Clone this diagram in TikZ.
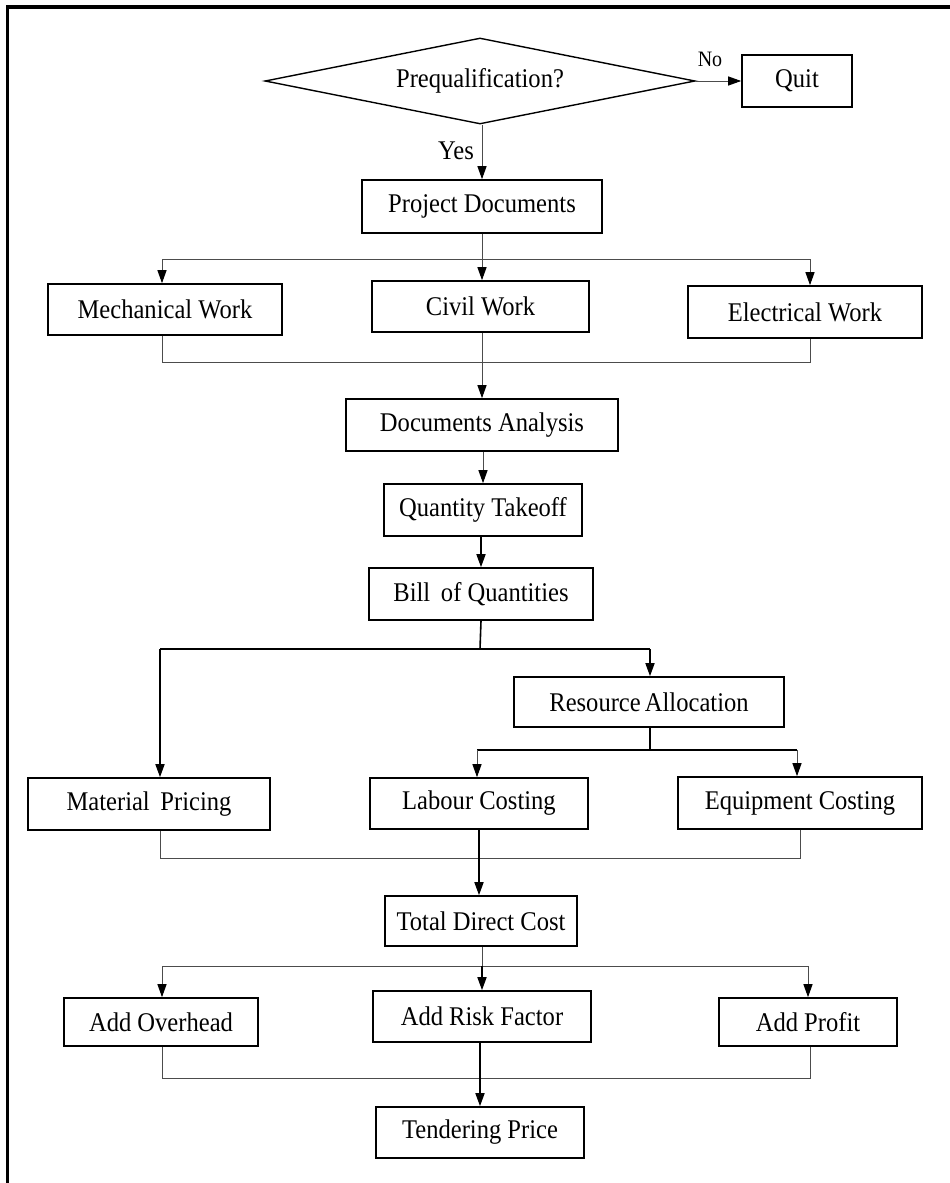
\documentclass[tikz,border=0pt]{standalone}
\usepackage{fontspec}
\setmainfont{Liberation Serif}[FakeStretch=0.91]
\usetikzlibrary{shapes.geometric,arrows.meta}
\begin{document}
\begin{tikzpicture}[x=1pt,y=-1pt,
  txt/.style={font=\fontsize{27}{30}\selectfont},
  box/.style={draw,line width=1.6pt,txt,inner sep=0pt,minimum width=#1,minimum height=51pt},
  conn/.style={line width=1pt,draw=black!70},
  strong/.style={line width=1.6pt,draw=black},
  tip/.style={-{Triangle[length=13pt,width=9pt,color=black,fill=black]}},
  lab/.style={txt,inner sep=0pt}
]
\useasboundingbox (0,0) rectangle (950,1183);

% page frame
\draw[line width=4pt] (6,6.5) -- (950,6.5);
\draw[line width=3pt] (7.5,5) -- (7.5,1183);

% decision
\node[draw,shape=diamond,shape aspect=5,line width=1.4pt,inner sep=0pt,
      minimum width=430pt,minimum height=86pt,txt] (dec) at (480,81) {Prequalification?};
\node[box=110pt,minimum height=52pt] (quit) at (797,81) {Quit};
\draw[conn,tip] (dec.east) -- (quit.west);
\node[lab,font=\fontsize{22}{24}\selectfont] (no) at (710,59) {No};

\node[box=240pt,minimum height=53pt] (proj) at (482,206.5) {Project Documents};
\draw[conn,tip] (dec.south -| proj.north) -- (proj.north);
\node[lab] (yes) at (456,151) {Yes};

% work packages
\node[box=234pt] (mech) at (165,309.5) {Mechanical Work};
\node[box=217pt] (civil) at (480.5,306.5) {Civil Work};
\node[box=234pt,minimum height=52pt] (elec) at (805,312) {Electrical Work};

\coordinate (s1) at (482,259);
\coordinate (s1l) at (162,259);
\coordinate (s1r) at (810,259);
\draw[conn] (proj.south) -- (s1);
\draw[conn] (s1l) -- (s1r);
\draw[conn,tip] (s1l) -- (s1l |- mech.north);
\draw[conn,tip] (s1) -- (s1 |- civil.north);
\draw[conn,tip] (s1r) -- (s1r |- elec.north);

\node[box=272pt,minimum height=52pt] (docs) at (482,425) {Documents Analysis};

\coordinate (j1l) at (162,362);
\coordinate (j1r) at (810,362);
\draw[conn] (s1l |- mech.south) -- (j1l) -- (j1r) -- (s1r |- elec.south);
\draw[conn,tip] (civil.south -| docs.north) -- (docs.north);

\node[box=198pt,minimum height=52pt] (qty) at (483,510) {Quantity Takeoff};
\node[box=224pt,minimum height=52pt] (bill) at (481,594) {Bill\, of Quantities};
\draw[conn,tip] (docs.south -| qty.north) -- (qty.north);
\draw[strong,tip] (qty.south -| bill.north) -- (bill.north);

% resources
\node[box=270pt,minimum height=50pt] (res) at (649,702) {Resource\hspace{-2pt} Allocation};
\node[box=242pt,minimum height=52pt] (mat) at (149,804) {Material\, Pricing};
\node[box=218pt] (lcost) at (479,803.5) {Labour Costing};
\node[box=244pt,minimum height=52pt] (equip) at (800,803) {Equipment Costing};

\coordinate (s2) at (480,649);
\coordinate (s2l) at (160,649);
\coordinate (s2r) at (650,649);
\draw[strong] (bill.south) -- (s2);
\draw[strong] (s2l) -- (s2r);
\draw[strong,tip] (s2l) -- (s2l |- mat.north);
\draw[strong,tip] (s2r) -- (s2r |- res.north);

\coordinate (s3) at (650,750);
\coordinate (s3l) at (477,750);
\coordinate (s3r) at (797,750);
\draw[strong] (res.south -| s3) -- (s3);
\draw[strong] (s3l) -- (s3r);
\draw[conn,tip] (s3l) -- (s3l |- lcost.north);
\draw[conn,tip] (s3r) -- (s3r |- equip.north);

\node[box=192pt,minimum height=50pt] (tdc) at (481,921) {Total Direct Cost};

\coordinate (j2l) at (160,858);
\coordinate (j2r) at (800,858);
\draw[conn] (j2l |- mat.south) -- (j2l) -- (j2r) -- (j2r |- equip.south);
\draw[strong,tip] (lcost.south) -- (lcost.south |- tdc.north);

% mark-ups
\node[box=194pt,minimum height=48pt] (over) at (161,1022) {Add Overhead};
\node[box=218pt] (risk) at (482,1016.5) {Add Risk Factor};
\node[box=178pt,minimum height=48pt] (profit) at (808,1022) {Add Profit};

\coordinate (s4) at (482,966);
\coordinate (s4l) at (162,966);
\coordinate (s4r) at (808,966);
\draw[conn] (tdc.south -| s4) -- (s4);
\draw[conn] (s4l) -- (s4r);
\draw[conn,tip] (s4l) -- (s4l |- over.north);
\draw[strong,tip] (s4) -- (s4 |- risk.north);
\draw[conn,tip] (s4r) -- (s4r |- profit.north);

\node[box=208pt] (tend) at (480,1132.5) {Tendering Price};

\coordinate (j3l) at (162,1078);
\coordinate (j3r) at (810,1078);
\draw[conn] (j3l |- over.south) -- (j3l) -- (j3r) -- (j3r |- profit.south);
\draw[strong,tip] (risk.south -| tend.north) -- (tend.north);
\end{tikzpicture}
\end{document}
